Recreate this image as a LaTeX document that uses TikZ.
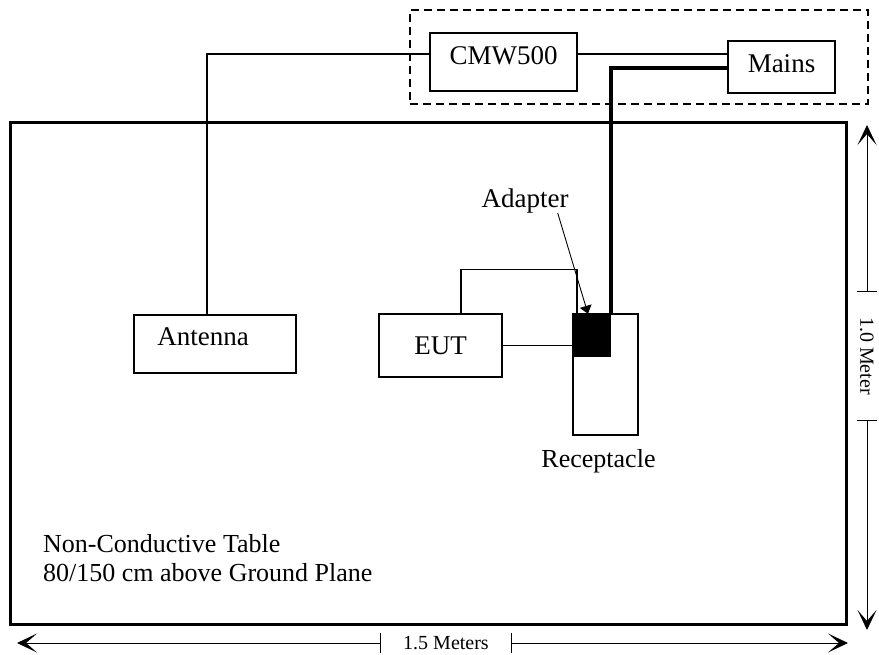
\documentclass[tikz,border=0pt]{standalone}
\usepackage{fontspec}
\setmainfont{Liberation Serif}
\usetikzlibrary{positioning,arrows.meta}

\tikzset{
  box/.style={draw, line width=1.2pt, inner sep=0pt, font=\fontsize{27}{32}\selectfont},
  label text/.style={inner sep=0pt, font=\fontsize{27}{32}\selectfont},
  dimlabel/.style={inner ysep=0pt, minimum height=20pt, font=\fontsize{20}{24}\selectfont},
  dimarrow/.style={line width=1pt, -{Stealth[length=20pt,width=19pt,inset=11pt]}},
  cable/.style={line width=1.2pt},
  power/.style={line width=4pt},
}

\begin{document}
\begin{tikzpicture}[x=1pt, y=-1pt]
  \useasboundingbox (0,0) rectangle (879,654);

  % Tisch
  \node[draw, line width=3pt, inner sep=0pt, minimum width=836pt, minimum height=502pt] (table) at (428,373) {};
  \node[anchor=north west, align=left, inner sep=0pt, font=\fontsize{26}{29}\selectfont] (tabletext) at (43,534)
    {Non-Conductive Table\\80/150 cm above Ground Plane};

  % Rahmen oben (gestrichelt)
  \node[draw, dashed, dash pattern=on 8pt off 5pt, line width=1.3pt, minimum width=458pt, minimum height=94pt] (rack) at (639,57) {};

  % Geraete
  \node[box, minimum width=147pt, minimum height=58pt, text depth=12pt] (cmw) at (503.5,62) {CMW500};
  \node[box, minimum width=107pt, minimum height=52pt, text depth=6pt] (mains) at (781.5,67) {Mains};
  \node[box, minimum width=162pt, minimum height=58pt] (antenna) at (215,344) {};
  \node[label text] (antennatext) at (203,337) {Antenna};
  \node[box, minimum width=123pt, minimum height=63pt] (eut) at (440.5,345.5) {EUT};

  % Steckdose mit Adapter
  \node[box, minimum width=65pt, minimum height=121pt] (recep) at (605.5,374.5) {};
  \node[fill=black, inner sep=0pt, minimum width=38pt, minimum height=43pt] (adapter) at (592,335.5) {};
  \node[label text, below=14pt of recep, xshift=-7pt, font=\fontsize{26}{30}\selectfont] (receptext) {Receptacle};

  % Beschriftung Adapter
  \node[label text, anchor=base] (adaptertext) at (525,207) {Adapter};
  \draw[line width=0.9pt, -{Triangle[length=8pt,width=12pt]}] ([xshift=-11pt]adaptertext.south east) -- ([xshift=-4pt]adapter.north);

  % Leitungen
  \draw[cable] ([yshift=8pt]cmw.west) -| ([xshift=-8pt]antenna.north);
  \draw[cable] ([yshift=8pt]cmw.east) -- ([yshift=8pt]cmw.east -| mains.west);
  \draw[power] ([yshift=-1pt]mains.west) -| ([xshift=-0.5pt]adapter.north east);
  \draw[cable] (eut.east) -- (eut.east -| adapter.west);
  \draw[cable] ([xshift=20.5pt]eut.north) -- ++(0,-44) -| ([xshift=-15pt]adapter.north);

  % Bemassung unten
  \coordinate (wleft) at (17,643);
  \coordinate (wright) at (848,643);
  \node[dimlabel, inner xsep=23pt] (wlabel) at (446,643) {1.5 Meters};
  \draw[dimarrow] (wlabel.west) -- (wleft);
  \draw[dimarrow] (wlabel.east) -- (wright);
  \draw[line width=1pt] (wlabel.north west) -- (wlabel.south west);
  \draw[line width=1pt] (wlabel.north east) -- (wlabel.south east);

  % Bemassung rechts
  \coordinate (htop) at (867,125);
  \coordinate (hbot) at (867,630);
  \node[dimlabel, rotate=-90, inner xsep=25pt] (hlabel) at (867,356) {1.0 Meter};
  \draw[dimarrow] (hlabel.west) -- (htop);
  \draw[dimarrow] (hlabel.east) -- (hbot);
  \draw[line width=1pt] (hlabel.north west) -- (hlabel.south west);
  \draw[line width=1pt] (hlabel.north east) -- (hlabel.south east);

\end{tikzpicture}
\end{document}
